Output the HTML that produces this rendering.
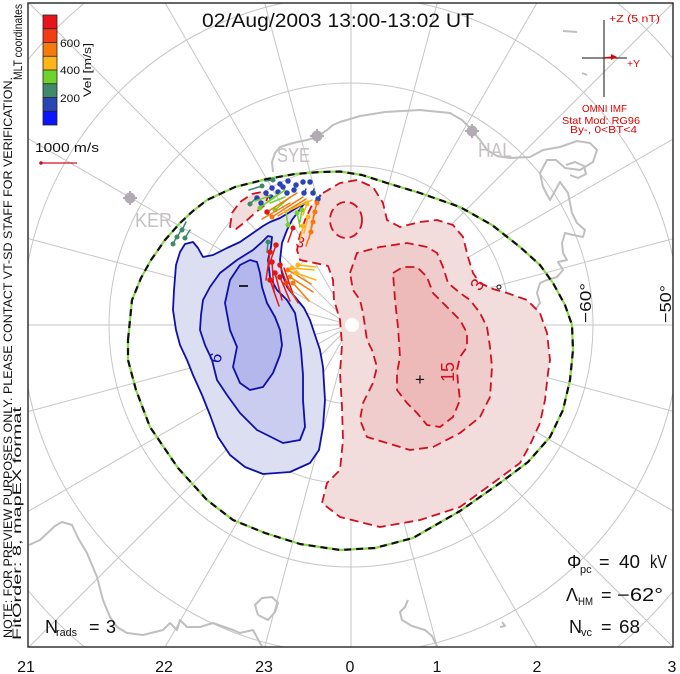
<!DOCTYPE html>
<html><head><meta charset="utf-8"><style>
html,body{margin:0;padding:0;background:#fff;width:680px;height:674px;overflow:hidden;}
svg{display:block;position:absolute;left:0;top:0;}
text{font-family:"Liberation Sans",sans-serif;}
</style></head><body>
<svg width="680" height="674" viewBox="0 0 680 674" xmlns="http://www.w3.org/2000/svg">
<defs><clipPath id="fr"><rect x="28" y="3" width="645" height="644"/></clipPath></defs>
<rect width="680" height="674" fill="#fff"/>
<g clip-path="url(#fr)">
 <!-- grid -->
 <g stroke="#c6c6c6" stroke-width="1" fill="none">
  <circle cx="351" cy="325" r="79"/><circle cx="351" cy="325" r="159"/><circle cx="351" cy="325" r="242"/>
  <path d="M418.5,3 A329,329 0 0 1 673,257.5 M673,392.5 A329,329 0 0 1 418.5,647 M283.5,647 A329,329 0 0 1 28,387.5 M28,262.5 A329,329 0 0 1 283.5,3"/>
  <path d="M28,59.7 A418,418 0 0 1 84.5,3 M617.5,3 A418,418 0 0 1 673,58.5 M673,591.5 A418,418 0 0 1 617.5,647 M84.5,647 A418,418 0 0 1 28,590.3"/>
  <line x1="673" y1="325" x2="28" y2="325"/>
  <line x1="673" y1="411.3" x2="28" y2="238.5"/>
  <line x1="673" y1="510.9" x2="28" y2="138.5"/>
  <line x1="673" y1="647" x2="29" y2="3"/>
  <line x1="536.9" y1="647" x2="165.1" y2="3"/>
  <line x1="437.3" y1="647" x2="264.7" y2="3"/>
  <line x1="351" y1="647" x2="351" y2="3"/>
  <line x1="264.7" y1="647" x2="437.3" y2="3"/>
  <line x1="165.1" y1="647" x2="536.9" y2="3"/>
  <line x1="29" y1="647" x2="673" y2="3"/>
  <line x1="28" y1="511.5" x2="673" y2="139.1"/>
  <line x1="28" y1="411.5" x2="673" y2="238.7"/>
 </g>
 <!-- coastlines -->
 <g stroke="#bfbfbf" stroke-width="2" fill="none" stroke-linejoin="round">
  <polyline points="273,172 272,162 275,153 280,147 293,143 307,140 317,137 327,130 333,125 340,122 360,116 385,112 420,110 450,113 462,120 470,128 480,140 487,150 497,156 510,158 530,157 543,150 560,147 577,141 590,143 597,150 593,162 580,170 565,168 556,160 547,160 540,173 543,187 550,200 560,182 568,193 572,213 577,223 585,230 583,237 573,235 565,233 562,243 563,253 567,260 558,262 563,270 557,277 547,280 540,283 537,293 540,303 535,310"/>
  <polyline points="566,165 575,162 584,166 586,174 578,178 570,175"/>
  <polyline points="563,31 577,32"/><polyline points="582,73 587,75"/>
  <polyline points="29,545 40,540 55,526 62,522 72,525 78,538 87,553 97,577 103,600 110,617 117,627 127,633 143,635 163,630 170,623 177,630 180,620 187,627 200,627 213,623 233,630 240,633 253,630 260,643 262,646"/>
  <polyline points="258,615 255,605 262,598 272,597 278,603 275,612 268,620 258,615"/>
  <polyline points="408,600 405,607 400,612 402,620 412,626 425,630 432,636 437,646"/>
  <polyline points="502,622 505,626 500,627"/>
 </g>
 <!-- stations -->
 <g fill="#b3abb3" stroke="#b3abb3" stroke-width="2">
  <circle cx="317" cy="136" r="4.5"/><line x1="310" y1="136" x2="324" y2="136"/><line x1="317" y1="129" x2="317" y2="143"/>
  <circle cx="472" cy="131" r="4.5"/><line x1="465" y1="131" x2="479" y2="131"/><line x1="472" y1="124" x2="472" y2="138"/>
  <circle cx="130" cy="198" r="4.5"/><line x1="123" y1="198" x2="137" y2="198"/><line x1="130" y1="191" x2="130" y2="205"/>
 </g>
 <g fill="#c4c0c4" font-size="20">
  <text x="277" y="162" textLength="33" lengthAdjust="spacingAndGlyphs">SYE</text>
  <text x="478" y="157" textLength="34" lengthAdjust="spacingAndGlyphs">HAL</text>
  <text x="135" y="227" textLength="37" lengthAdjust="spacingAndGlyphs">KER</text>
 </g>
 <!-- blue fills -->
 <g stroke-linejoin="round">
 <path d="M304,204 L298,207 L290,212 L280,218 L270,222 L263,226 L253,233 L240,242 L227,248 L213,255 L203,257 L198,248 L193,242 L185,244 L180,252 L176,265 L174,290 L173,310 L176,330 L180,345 L187,360 L193,375 L202,395 L210,415 L218,437 L230,455 L245,467 L263,474 L290,472 L310,463 L319,450 L323,427 L325,400 L323,367 L320,350 L315,335 L310,320 L304,308 L295,297 L287,287 L282,273 L280,260 L282,243 L287,230 L292,220 L298,212 Z" fill="#dcdef1" stroke="#1010a8" stroke-width="1.8"/>
 <path d="M200,330 L201,315 L203,300 L210,287 L220,273 L237,260 L253,250 L262,242 L268,236 L272,237 L271,247 L268,260 L270,277 L277,290 L287,300 L295,313 L298,330 L301,350 L303,375 L303,400 L305,427 L300,440 L283,443 L257,430 L240,413 L227,395 L217,380 L212,360 L205,345 Z" fill="#cacdef" stroke="#1010a8" stroke-width="1.8"/>
 <path d="M230,330 L225,303 L230,280 L240,265 L250,260 L257,262 L260,273 L262,287 L267,303 L275,317 L280,330 L282,345 L280,355 L273,373 L263,387 L250,390 L240,383 L233,367 L237,347 Z" fill="#b4b7ec" stroke="#1010a8" stroke-width="1.8"/>
 <!-- red fills -->
 <path d="M323,193 L340,183 L357,180 L373,187 L383,203 L387,220 L400,227 L420,222 L437,220 L453,225 L463,237 L468,257 L473,273 L480,283 L493,289 L507,293 L527,300 L540,313 L547,333 L550,360 L548,373 L545,400 L540,423 L530,445 L520,463 L493,483 L460,507 L420,520 L380,527 L340,517 L322,503 L327,483 L340,470 L343,440 L342,407 L340,373 L342,345 L340,320 L334,300 L333,280 L328,266 L315,263 L300,260 L297,250 L300,235 L305,220 L312,205 Z" fill="#f3dcdc" stroke="#d01020" stroke-width="1.8" stroke-dasharray="9 5"/>
 <path d="M230,227 L232,213 L240,202 L252,194 L262,192 L268,196 L265,205 L255,213 L245,222 L236,229 Z" fill="#f3dcdc" stroke="#d01020" stroke-width="1.8" stroke-dasharray="9 5"/>
 <ellipse cx="346" cy="220" rx="16" ry="18" fill="#f0d0d0" stroke="#d01020" stroke-width="1.8" stroke-dasharray="9 5"/>
 <path d="M350,273 L357,253 L380,247 L407,243 L427,247 L437,253 L443,267 L448,283 L460,293 L470,300 L480,313 L487,327 L490,347 L492,367 L490,397 L480,417 L460,433 L433,447 L410,450 L387,443 L367,437 L360,420 L363,403 L373,383 L377,367 L372,350 L367,340 L363,313 L360,300 L353,290 Z" fill="#f0cdcd" stroke="#d01020" stroke-width="1.8" stroke-dasharray="9 5"/>
 <path d="M393,273 L403,267 L417,267 L427,277 L433,293 L447,307 L460,320 L467,333 L467,347 L460,357 L457,370 L458,383 L460,400 L453,417 L440,427 L427,425 L417,413 L407,403 L397,390 L397,373 L400,357 L398,327 L395,300 Z" fill="#eeb9b9" stroke="#d01020" stroke-width="1.8" stroke-dasharray="9 5"/>
 </g>
 <circle cx="352" cy="325" r="7" fill="#fff"/>
 <!-- HM boundary -->
 <path d="M128,340 L132,300 L141,278 L151,260 L165,240 L180,223 L193,211 L207,200 L235,187 L267,179 L295,174 L320,172 L340,171.5 L362,175 L387,183 L420,193 L460,207 L492,225 L520,247 L540,265 L553,283 L565,305 L572,325 L573,350 L570,380 L563,410 L550,437 L528,462 L500,483 L460,511 L413,538 L375,548 L340,550 L300,544 L265,533 L233,520 L207,500 L178,468 L150,427 L136,390 L128,360 Z" fill="none" stroke="#8ad84a" stroke-width="2.2" stroke-linejoin="round"/>
 <path d="M128,340 L132,300 L141,278 L151,260 L165,240 L180,223 L193,211 L207,200 L235,187 L267,179 L295,174 L320,172 L340,171.5 L362,175 L387,183 L420,193 L460,207 L492,225 L520,247 L540,265 L553,283 L565,305 L572,325 L573,350 L570,380 L563,410 L550,437 L528,462 L500,483 L460,511 L413,538 L375,548 L340,550 L300,544 L265,533 L233,520 L207,500 L178,468 L150,427 L136,390 L128,360 Z" fill="none" stroke="#111" stroke-width="2.2" stroke-dasharray="7 5" stroke-linejoin="round"/>
 <!-- contour labels -->
 <text x="0" y="0" font-size="17" fill="#1010a8" transform="translate(220,364) rotate(-75)">6</text>
 <text x="0" y="0" font-size="18" fill="#d01020" transform="translate(454,382) rotate(-90)">15</text>
 <text x="0" y="0" font-size="18" fill="#d01020" transform="translate(480,292) rotate(-60)">3</text>
 <text x="0" y="0" font-size="15" fill="#d01020" transform="translate(295,246) rotate(15)">3</text>
 <circle cx="499" cy="287" r="2" fill="none" stroke="#111" stroke-width="1"/>
 <text x="415" y="385" font-size="17" fill="#111">+</text>
 <line x1="239" y1="286" x2="248" y2="286" stroke="#111" stroke-width="1.8"/>
 <!-- vectors -->
 <g stroke-width="1.5" stroke-linecap="round">
  <g stroke="#3d8a6a" fill="#3d8a6a">
   <line x1="173" y1="244" x2="177" y2="236"/><circle cx="173" cy="244" r="1.8"/>
   <line x1="177" y1="237" x2="182" y2="229"/><circle cx="177" cy="237" r="1.8"/>
   <line x1="182" y1="230" x2="186" y2="222"/><circle cx="182" cy="230" r="1.8"/>
   <line x1="185" y1="238" x2="190" y2="230"/><circle cx="185" cy="238" r="1.8"/>
   <line x1="262" y1="186" x2="249" y2="190"/><circle cx="262" cy="186" r="1.8"/>
   <line x1="273" y1="180" x2="265" y2="181"/><circle cx="273" cy="180" r="1.8"/>
   <line x1="250" y1="204" x2="257" y2="197"/><circle cx="250" cy="204" r="1.8"/>
   <line x1="268" y1="242" x2="267" y2="252"/><circle cx="268" cy="242" r="1.8"/>
  </g>
  <g stroke="#2a44b8" fill="#2a44b8">
   <circle cx="272" cy="188" r="2"/><circle cx="280" cy="184" r="2"/><circle cx="288" cy="181" r="2"/><circle cx="296" cy="185" r="2"/><circle cx="303" cy="182" r="2"/><circle cx="310" cy="182" r="2"/><circle cx="278" cy="192" r="2"/><circle cx="266" cy="193" r="2"/><circle cx="257" cy="198" r="2"/><circle cx="261" cy="203" r="2"/><circle cx="287" cy="193" r="2"/><circle cx="294" cy="190" r="2"/><circle cx="304" cy="193" r="2"/><circle cx="313" cy="193" r="2"/><circle cx="318" cy="199" r="2"/><circle cx="271" cy="197" r="2"/><circle cx="283" cy="187" r="2"/>
   <line x1="304" y1="193" x2="306" y2="189"/><line x1="313" y1="193" x2="314" y2="189"/><line x1="318" y1="199" x2="320" y2="195"/>
  </g>
  <g stroke="#74d02c" fill="#74d02c">
   <line x1="270" y1="196" x2="255" y2="201"/>
   <line x1="285" y1="197" x2="270" y2="203"/>
   <line x1="260" y1="208" x2="275" y2="196"/><circle cx="260" cy="208" r="1.8"/>
   <line x1="275" y1="210" x2="290" y2="197"/><circle cx="275" cy="210" r="1.8"/>
   <line x1="268" y1="202" x2="285" y2="190"/>
   <line x1="302" y1="210" x2="300" y2="222"/><circle cx="302" cy="210" r="1.8"/>
   <line x1="297" y1="213" x2="300" y2="227"/><circle cx="297" cy="213" r="1.8"/>
   <line x1="288" y1="225" x2="286" y2="212"/><circle cx="288" cy="225" r="1.8"/>
  </g>
  <g stroke="#f57a0c" fill="#f57a0c">
   <line x1="267" y1="212" x2="297" y2="193"/>
   <line x1="272" y1="217" x2="303" y2="197"/><circle cx="272" cy="217" r="1.8"/>
   <line x1="278" y1="216" x2="306" y2="199"/>
   <line x1="262" y1="219" x2="290" y2="203"/>
   <line x1="317" y1="203" x2="313" y2="218"/><circle cx="317" cy="203" r="1.8"/>
   <line x1="315" y1="212" x2="311" y2="228"/><circle cx="315" cy="212" r="1.8"/>
   <line x1="313" y1="222" x2="309" y2="238"/><circle cx="313" cy="222" r="1.8"/>
   <line x1="311" y1="232" x2="306" y2="246"/><circle cx="311" cy="232" r="1.8"/>
   <line x1="288" y1="270" x2="311" y2="284"/><circle cx="288" cy="270" r="1.8"/>
   <line x1="290" y1="277" x2="313" y2="292"/><circle cx="290" cy="277" r="1.8"/>
   <line x1="293" y1="283" x2="309" y2="301"/><circle cx="293" cy="283" r="1.8"/>
  </g>
  <g stroke="#fbb414" fill="#fbb414">
   <line x1="283" y1="213" x2="308" y2="201"/>
   <line x1="290" y1="210" x2="312" y2="200"/>
   <line x1="308" y1="217" x2="304" y2="233"/><circle cx="308" cy="217" r="1.8"/>
   <line x1="303" y1="226" x2="300" y2="240"/><circle cx="303" cy="226" r="1.8"/>
   <line x1="307" y1="204" x2="303" y2="215"/><circle cx="307" cy="204" r="1.8"/>
   <line x1="292" y1="268" x2="314" y2="270"/><circle cx="292" cy="268" r="1.8"/>
   <line x1="296" y1="273" x2="316" y2="280"/><circle cx="296" cy="273" r="1.8"/>
   <line x1="298" y1="265" x2="316" y2="267"/><circle cx="298" cy="265" r="1.8"/>
  </g>
  <g stroke="#e01818" fill="#e01818">
   <circle cx="267" cy="212" r="2"/>
   <line x1="293" y1="228" x2="288" y2="242"/><circle cx="293" cy="228" r="1.8"/>
   <line x1="270" y1="252" x2="266" y2="280"/><circle cx="270" cy="252" r="2"/>
   <line x1="276" y1="245" x2="268" y2="268"/><circle cx="276" cy="245" r="2"/>
   <line x1="272" y1="262" x2="274" y2="292"/><circle cx="272" cy="262" r="2"/>
   <line x1="275" y1="273" x2="282" y2="300"/><circle cx="275" cy="273" r="2"/>
   <line x1="280" y1="265" x2="289" y2="290"/><circle cx="280" cy="265" r="2"/>
   <line x1="280" y1="277" x2="290" y2="301"/><circle cx="280" cy="277" r="2"/>
   <line x1="270" y1="280" x2="279" y2="306"/><circle cx="270" cy="280" r="2"/>
   <line x1="284" y1="268" x2="293" y2="294"/>
  </g>
  <g stroke="#ee4010" fill="#ee4010">
   <line x1="286" y1="283" x2="298" y2="303"/><circle cx="286" cy="283" r="2"/>
  </g>
 </g>
 <!-- IMF panel -->
 <g stroke="#111" stroke-width="1">
  <line x1="604" y1="20" x2="604" y2="97"/>
  <line x1="582" y1="58" x2="627" y2="58"/>
 </g>
 <line x1="604" y1="58" x2="614" y2="57" stroke="#dd0000" stroke-width="1.5"/>
 <polygon points="617,57 611,54 611,60" fill="#dd0000"/>
 <g fill="#dd0000" font-size="10.5">
  <text x="609" y="22" textLength="51" lengthAdjust="spacingAndGlyphs">+Z (5 nT)</text>
  <text x="627" y="67" textLength="13" lengthAdjust="spacingAndGlyphs">+Y</text>
  <text x="582" y="112" textLength="45" lengthAdjust="spacingAndGlyphs">OMNI IMF</text>
  <text x="562" y="124" textLength="78" lengthAdjust="spacingAndGlyphs">Stat Mod: RG96</text>
  <text x="570" y="133" textLength="67" lengthAdjust="spacingAndGlyphs">By-, 0&lt;BT&lt;4</text>
 </g>
 <!-- colour bar -->
 <g stroke="none">
  <rect x="43" y="15" width="14" height="13.75" fill="#e8141c"/>
  <rect x="43" y="28.75" width="14" height="13.75" fill="#f23c14"/>
  <rect x="43" y="42.5" width="14" height="13.75" fill="#f77b0c"/>
  <rect x="43" y="56.25" width="14" height="13.75" fill="#fdb516"/>
  <rect x="43" y="70" width="14" height="13.75" fill="#6fd32b"/>
  <rect x="43" y="83.75" width="14" height="13.75" fill="#3f8a6b"/>
  <rect x="43" y="97.5" width="14" height="13.75" fill="#2846b4"/>
  <rect x="43" y="111.25" width="14" height="13.75" fill="#0a14ff"/>
 </g>
 <g stroke="#222" stroke-width="0.8" fill="none">
  <rect x="43" y="15" width="14" height="110"/>
  <line x1="43" y1="28.75" x2="57" y2="28.75"/><line x1="43" y1="42.5" x2="57" y2="42.5"/><line x1="43" y1="56.25" x2="57" y2="56.25"/><line x1="43" y1="70" x2="57" y2="70"/><line x1="43" y1="83.75" x2="57" y2="83.75"/><line x1="43" y1="97.5" x2="57" y2="97.5"/><line x1="43" y1="111.25" x2="57" y2="111.25"/>
 </g>
 <g fill="#111" font-size="11">
  <text x="60" y="47" textLength="20" lengthAdjust="spacingAndGlyphs">600</text>
  <text x="60" y="74" textLength="20" lengthAdjust="spacingAndGlyphs">400</text>
  <text x="60" y="102" textLength="20" lengthAdjust="spacingAndGlyphs">200</text>
  <text x="0" y="0" transform="translate(91,97) rotate(-90)" textLength="54" lengthAdjust="spacingAndGlyphs">Vel [m/s]</text>
 </g>
 <text x="35" y="152" font-size="13" fill="#111" textLength="64" lengthAdjust="spacingAndGlyphs">1000 m/s</text>
 <line x1="41" y1="163" x2="77" y2="163" stroke="#d01020" stroke-width="1.3"/>
 <circle cx="41" cy="163" r="1.8" fill="#d01020"/>
 <!-- title -->
 <text x="202" y="27" font-size="19" fill="#111" textLength="272" lengthAdjust="spacingAndGlyphs">02/Aug/2003 13:00-13:02 UT</text>
 <!-- lat labels -->
 <text x="0" y="0" font-size="16" fill="#111" transform="translate(591,323) rotate(-90)" textLength="40" lengthAdjust="spacingAndGlyphs">−60°</text>
 <text x="0" y="0" font-size="16" fill="#111" transform="translate(671,323) rotate(-90)" textLength="38" lengthAdjust="spacingAndGlyphs">−50°</text>
 <!-- stats -->
 <g fill="#111">
  <text x="45" y="633" font-size="18">N</text>
  <text x="56" y="636" font-size="11" textLength="21" lengthAdjust="spacingAndGlyphs">rads</text>
  <text x="89" y="633" font-size="18">=</text>
  <text x="106" y="633" font-size="18">3</text>
  <text x="567" y="568" font-size="18">Φ</text>
  <text x="580" y="573" font-size="11">pc</text>
  <text x="599" y="568" font-size="18">=</text>
  <text x="619" y="568" font-size="18" textLength="21" lengthAdjust="spacingAndGlyphs">40</text>
  <text x="650" y="568" font-size="18" textLength="17" lengthAdjust="spacingAndGlyphs">kV</text>
  <text x="566" y="601" font-size="18">Λ</text>
  <text x="578" y="605" font-size="11" textLength="15" lengthAdjust="spacingAndGlyphs">HM</text>
  <text x="601" y="601" font-size="18">=</text>
  <text x="617" y="601" font-size="18" textLength="46" lengthAdjust="spacingAndGlyphs">−62°</text>
  <text x="569" y="633" font-size="18">N</text>
  <text x="581" y="636" font-size="11">vc</text>
  <text x="601" y="633" font-size="18">=</text>
  <text x="619" y="633" font-size="18" textLength="21" lengthAdjust="spacingAndGlyphs">68</text>
 </g>
</g>
<rect x="28" y="3" width="645" height="644" fill="none" stroke="#333" stroke-width="1.5"/>
<!-- left vertical notes -->
<g fill="#111" font-size="12">
 <text x="0" y="0" transform="translate(12,638) rotate(-90)" textLength="561" lengthAdjust="spacingAndGlyphs">NOTE: FOR PREVIEW PURPOSES ONLY. PLEASE CONTACT VT-SD STAFF FOR VERIFICATION.</text>
 <text x="0" y="0" transform="translate(21,640) rotate(-90)" textLength="233" lengthAdjust="spacingAndGlyphs">FitOrder: 8, mapEX format</text>
 <text x="0" y="0" transform="translate(22,80) rotate(-90)" textLength="76" lengthAdjust="spacingAndGlyphs">MLT coordinates</text>
</g>
<!-- MLT labels -->
<g fill="#111" font-size="16" text-anchor="middle">
 <text x="26" y="672">21</text>
 <text x="164" y="672">22</text>
 <text x="264" y="672">23</text>
 <text x="350" y="672">0</text>
 <text x="437" y="672">1</text>
 <text x="537" y="672">2</text>
 <text x="672" y="672">3</text>
</g>
</svg>
</body></html>
